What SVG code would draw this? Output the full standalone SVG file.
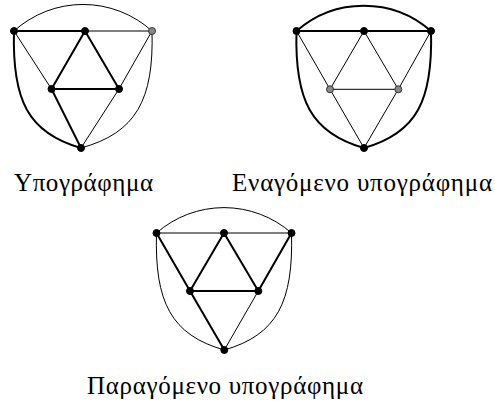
<svg xmlns="http://www.w3.org/2000/svg" width="495" height="407" viewBox="0 0 495 407">
<style>
.e{fill:none;stroke:#000;stroke-linecap:round}
.thin{stroke-width:1}
.thick{stroke-width:2}
.n{fill:#000;stroke:#000;stroke-width:1}
.g{fill:#888;stroke:#333;stroke-width:1}
.lbl{font-family:'Liberation Serif','DejaVu Serif',serif;font-size:25px;fill:#000}
</style>
<rect width="495" height="407" fill="#fff"/>
<g id="connectors">
<path class="e thin" d="M14,31 A102.5,102.5 0 0 1 152,31"/>
<path class="e thick" d="M14,31 L85,31"/>
<path class="e thin" d="M85,31 L152,31"/>
<path class="e thin" d="M14,31 L51.5,89"/>
<path class="e thick" d="M85,31 L51.5,89"/>
<path class="e thick" d="M85,31 L119,89"/>
<path class="e thin" d="M152,31 L119,89"/>
<path class="e thick" d="M51.5,89 L119,89"/>
<path class="e thick" d="M51.5,89 L81,148"/>
<path class="e thin" d="M119,89 L81,148"/>
<path class="e thick" d="M14,31 C12,100 28,133 81,148"/>
<path class="e thin" d="M152,31 C154,100 136,133 81,148"/>
<path class="e thick" d="M296.5,31 A102,102 0 0 1 431,31"/>
<path class="e thick" d="M296.5,31 L431,31"/>
<path class="e thin" d="M296.5,31 L330,89.3"/>
<path class="e thin" d="M364,31 L330,89.3"/>
<path class="e thin" d="M364,31 L398.3,89.3"/>
<path class="e thin" d="M431,31 L398.3,89.3"/>
<path class="e thin" d="M330,89.3 L398.3,89.3"/>
<path class="e thin" d="M330,89.3 L364,148"/>
<path class="e thin" d="M398.3,89.3 L364,148"/>
<path class="e thick" d="M296.5,31 C294.5,100 311,133 364,148"/>
<path class="e thick" d="M431,31 C433,100 417,133 364,148"/>
<path class="e thin" d="M156.5,233 A102,102 0 0 1 291.5,233"/>
<path class="e thin" d="M156.5,233 L291.5,233"/>
<path class="e thick" d="M156.5,233 L190,291"/>
<path class="e thick" d="M224,233 L190,291"/>
<path class="e thick" d="M224,233 L258.3,291"/>
<path class="e thick" d="M291.5,233 L258.3,291"/>
<path class="e thick" d="M190,291 L258.3,291"/>
<path class="e thick" d="M190,291 L224.3,350"/>
<path class="e thin" d="M258.3,291 L224.3,350"/>
<path class="e thin" d="M156.5,233 C154.5,302 171,335 224.3,350"/>
<path class="e thin" d="M291.5,233 C293.5,302 277,335 224.3,350"/>
</g>
<g id="g1-tl"><circle class="n" cx="14" cy="31" r="3.5"/></g>
<g id="g1-tm"><circle class="n" cx="85" cy="31" r="3.5"/></g>
<g id="g1-tr"><circle class="g" cx="152" cy="31" r="3.5"/></g>
<g id="g1-ml"><circle class="n" cx="51.5" cy="89" r="3.5"/></g>
<g id="g1-mr"><circle class="n" cx="119" cy="89" r="3.5"/></g>
<g id="g1-b"><circle class="n" cx="81" cy="148" r="3.5"/></g>
<g id="g2-tl"><circle class="n" cx="296.5" cy="31" r="3.5"/></g>
<g id="g2-tm"><circle class="n" cx="364" cy="31" r="3.5"/></g>
<g id="g2-tr"><circle class="n" cx="431" cy="31" r="3.5"/></g>
<g id="g2-ml"><circle class="g" cx="330" cy="89.3" r="3.5"/></g>
<g id="g2-mr"><circle class="g" cx="398.3" cy="89.3" r="3.5"/></g>
<g id="g2-b"><circle class="n" cx="364" cy="148" r="3.5"/></g>
<g id="g3-tl"><circle class="n" cx="156.5" cy="233" r="3.5"/></g>
<g id="g3-tm"><circle class="n" cx="224" cy="233" r="3.5"/></g>
<g id="g3-tr"><circle class="n" cx="291.5" cy="233" r="3.5"/></g>
<g id="g3-ml"><circle class="n" cx="190" cy="291" r="3.5"/></g>
<g id="g3-mr"><circle class="n" cx="258.3" cy="291" r="3.5"/></g>
<g id="g3-b"><circle class="n" cx="224.3" cy="350" r="3.5"/></g>
<g id="labels">
<text class="lbl" x="14" y="191" textLength="139" lengthAdjust="spacing">Υπογράφημα</text>
<text class="lbl" x="232" y="191" textLength="260" lengthAdjust="spacing">Εναγόμενο υπογράφημα</text>
<text class="lbl" x="87" y="394" textLength="276" lengthAdjust="spacing">Παραγόμενο υπογράφημα</text>
</g>
</svg>
